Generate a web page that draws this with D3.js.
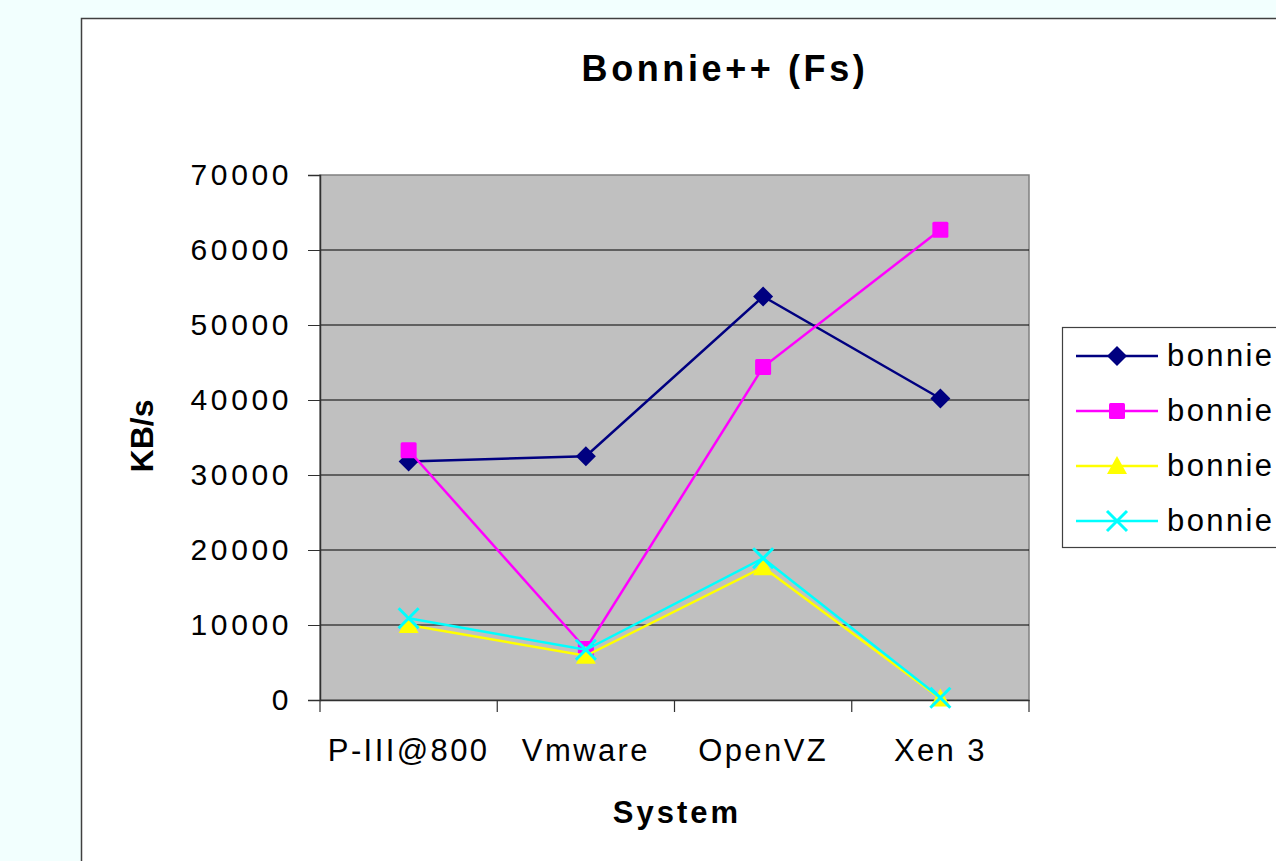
<!DOCTYPE html>
<html>
<head>
<meta charset="utf-8">
<script src="https://cdn.jsdelivr.net/npm/d3@7"></script>
<style>
  body { margin: 0; background: #f2fffe; overflow: hidden; }
  text { font-family: "Liberation Sans", Arial, sans-serif; }
</style>
</head>
<body>
<div id="chart"></div>
<script>
/* DATA */
const systems = ["P-III@800", "Vmware", "OpenVZ", "Xen 3"];
const yTicks = [0, 10000, 20000, 30000, 40000, 50000, 60000, 70000];
const seriesNames = ["bonnie", "bonnie", "bonnie", "bonnie"];
const bonnie1 = [31800, 32500, 53800, 40200];
const bonnie2 = [33300, 6800, 44400, 62700];
const bonnie3 = [10000, 5900, 17700, 200];
const bonnie4 = [10900, 6700, 18900, 300];

const width = 1276, height = 861;
const plot = { left: 320, right: 1029, top: 175, bottom: 700 };

const svg = d3.select("#chart").append("svg")
  .attr("width", width)
  .attr("height", height);

// chart frame (white box, runs off the page)
svg.append("rect")
  .attr("x", 81.5).attr("y", 18.5)
  .attr("width", 1300).attr("height", 900)
  .attr("fill", "#fff")
  .attr("stroke", "#404040")
  .attr("stroke-width", 1.5);

const xScale = d3.scaleBand()
  .domain(systems)
  .range([plot.left, plot.right]);

const yScale = d3.scaleLinear()
  .domain([0, 70000])
  .range([plot.bottom, plot.top]);

// plot background
svg.append("rect")
  .attr("x", plot.left).attr("y", plot.top)
  .attr("width", plot.right - plot.left)
  .attr("height", plot.bottom - plot.top)
  .attr("fill", "#c0c0c0")
  .attr("stroke", "#808080")
  .attr("stroke-width", 1.5);

// gridlines
svg.append("g")
  .selectAll("line")
  .data(yTicks.filter(d => d > 0 && d < 70000))
  .join("line")
  .attr("x1", plot.left).attr("x2", plot.right)
  .attr("y1", d => yScale(d)).attr("y2", d => yScale(d))
  .attr("stroke", "#000")
  .attr("stroke-width", 1);

// y axis
const yAxis = d3.axisLeft(yScale)
  .tickValues(yTicks)
  .tickSize(12)
  .tickPadding(16)
  .tickFormat(d3.format("d"));

const yAxisGroup = svg.append("g")
  .attr("transform", `translate(${plot.left}, 0)`)
  .call(yAxis);
yAxisGroup.select(".domain").attr("stroke", "#303030").attr("stroke-width", 1.5);
yAxisGroup.selectAll(".tick line").attr("stroke", "#303030");
yAxisGroup.selectAll("text")
  .attr("font-size", 30)
  .attr("letter-spacing", 3.6)
  .attr("fill", "#000")
  .attr("font-family", "Liberation Sans, Arial, sans-serif");

// x axis
const xAxis = d3.axisBottom(xScale).tickSize(0).tickPadding(39);
const xAxisGroup = svg.append("g")
  .attr("transform", `translate(0, ${plot.bottom})`)
  .call(xAxis);
xAxisGroup.select(".domain").attr("stroke", "#303030").attr("stroke-width", 1.5);
xAxisGroup.selectAll("text")
  .attr("font-size", 31)
  .attr("letter-spacing", 2.4)
  .attr("fill", "#000")
  .attr("font-family", "Liberation Sans, Arial, sans-serif");

// category boundary ticks
const bounds = systems.map(d => xScale(d)).concat([xScale.range()[1]]);
xAxisGroup.selectAll(".bound")
  .data(bounds)
  .join("line")
  .attr("class", "bound")
  .attr("x1", d => d).attr("x2", d => d)
  .attr("y1", 0).attr("y2", 12)
  .attr("stroke", "#303030")
  .attr("stroke-width", 1.2);

// titles
svg.append("text")
  .attr("x", 725).attr("y", 81)
  .attr("text-anchor", "middle")
  .attr("font-size", 36)
  .attr("font-weight", "bold")
  .attr("letter-spacing", 3.6)
  .text("Bonnie++ (Fs)");

svg.append("text")
  .attr("x", 677).attr("y", 823)
  .attr("text-anchor", "middle")
  .attr("font-size", 31)
  .attr("font-weight", "bold")
  .attr("letter-spacing", 3)
  .text("System");

svg.append("text")
  .attr("transform", `translate(153, 436) rotate(-90)`)
  .attr("text-anchor", "middle")
  .attr("font-size", 32)
  .attr("font-weight", "bold")
  .text("KB/s");

// series
const series = [
  { name: seriesNames[0], values: bonnie1, color: "#000080", shape: "diamond" },
  { name: seriesNames[1], values: bonnie2, color: "#ff00ff", shape: "square" },
  { name: seriesNames[2], values: bonnie3, color: "#ffff00", shape: "triangle" },
  { name: seriesNames[3], values: bonnie4, color: "#00ffff", shape: "cross" }
];

const cx = d => xScale(d) + xScale.bandwidth() / 2;

const lineGen = d3.line()
  .x(d => cx(d.sys))
  .y(d => yScale(d.val));

function drawMarker(g, shape, color) {
  if (shape === "diamond") {
    g.append("path").attr("d", "M0,-10L10,0L0,10L-10,0Z").attr("fill", color);
  } else if (shape === "square") {
    g.append("rect").attr("x", -8).attr("y", -8).attr("width", 16).attr("height", 16)
      .attr("rx", 1.5).attr("fill", color);
  } else if (shape === "triangle") {
    g.append("path").attr("d", "M0,-10L10,8L-10,8Z").attr("fill", color);
  } else {
    g.append("path").attr("d", "M-10,-10L10,10M-10,10L10,-10")
      .attr("stroke", color).attr("stroke-width", 3).attr("fill", "none");
  }
}

series.forEach(s => {
  const pts = systems.map((sys, i) => ({ sys: sys, val: s.values[i] }));
  svg.append("path")
    .datum(pts)
    .attr("d", lineGen)
    .attr("fill", "none")
    .attr("stroke", s.color)
    .attr("stroke-width", 2.5);
  pts.forEach(p => {
    const g = svg.append("g")
      .attr("transform", `translate(${cx(p.sys)}, ${yScale(p.val)})`);
    drawMarker(g, s.shape, s.color);
  });
});

// legend
const legend = svg.append("g").attr("transform", "translate(1062, 327)");
legend.append("rect")
  .attr("x", 0.5).attr("y", 0.5)
  .attr("width", 300).attr("height", 220)
  .attr("fill", "#fff")
  .attr("stroke", "#404040")
  .attr("stroke-width", 1.2);

series.forEach((s, i) => {
  const y = 29 + i * 55;
  legend.append("line")
    .attr("x1", 14).attr("x2", 96)
    .attr("y1", y).attr("y2", y)
    .attr("stroke", s.color)
    .attr("stroke-width", 2.5);
  const g = legend.append("g").attr("transform", `translate(55, ${y})`);
  drawMarker(g, s.shape, s.color);
  legend.append("text")
    .attr("x", 105).attr("y", y + 10)
    .attr("font-size", 31)
    .attr("letter-spacing", 2.4)
    .text(s.name);
});
</script>
</body>
</html>
